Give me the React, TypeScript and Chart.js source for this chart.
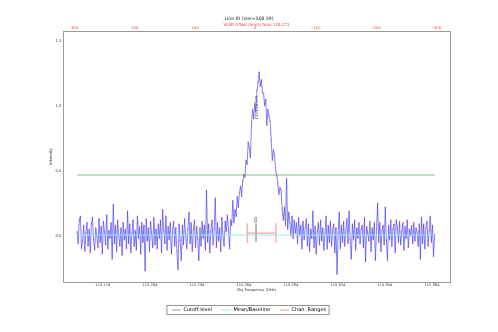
import { useEffect, useRef } from "react";
import { Chart, registerables } from "chart.js";

Chart.register(...registerables);

// ---- data ----
const REST_FREQ = 115.2712; // GHz
const C_KMS = 299792.458;
const FREQ_START = 115.1575;
const CHAN_WIDTH = 0.0007;
const X_MIN = 115.1485;
const X_MAX = 115.3955;
const Y_MIN = -0.356;
const Y_MAX = 1.575;

const intensity = [
  0.03, -0.06, 0.12, 0.15, -0.1, -0.04, 0.08, -0.12, 0.02, 0.1,
  -0.08, 0.05, -0.13, 0.09, 0.14, -0.03, -0.11, 0.06, 0.0, -0.09,
  0.13, -0.05, 0.07, -0.14, 0.11, 0.03, -0.07, 0.16, -0.1, 0.04,
  -0.02, 0.1, -0.18, 0.24, -0.06, 0.08, -0.12, 0.12, 0.0, -0.08,
  0.06, -0.15, 0.1, -0.03, 0.05, -0.1, 0.19, -0.06, 0.09, -0.13,
  0.02, 0.12, -0.08, 0.04, -0.11, 0.15, -0.02, 0.07, -0.14, 0.1,
  -0.05, 0.08, -0.27, 0.13, -0.04, 0.06, -0.12, 0.11, 0.01, -0.09,
  0.14, -0.07, 0.05, -0.1, 0.09, -0.02, 0.12, -0.13, 0.2, 0.04,
  -0.06, 0.15, -0.11, 0.07, -0.03, 0.1, -0.14, 0.03, 0.11, -0.08,
  0.06, -0.12, -0.26, 0.09, -0.04, -0.19, 0.08, -0.07, 0.13, 0.0,
  -0.1, 0.05, 0.18, -0.06, 0.1, -0.12, 0.04, 0.12, -0.09, 0.07,
  -0.03, -0.19, 0.06, -0.08, 0.11, -0.02, 0.08, -0.11, 0.35, -0.05,
  0.09, -0.13, 0.03, 0.12, -0.07, 0.05, 0.29, -0.09, 0.1, -0.04,
  0.06, -0.12, 0.14, 0.0, -0.08, 0.11, 0.03, 0.16, 0.05, -0.1,
  0.12, 0.08, 0.27, 0.1, 0.2, 0.15, 0.3, 0.22, 0.33, 0.38,
  0.3, 0.42, 0.47, 0.45, 0.58, 0.55, 0.72, 0.68, 0.6, 0.85,
  0.97, 0.9, 1.02, 0.95, 1.12, 1.18, 1.26, 1.15, 1.2, 1.1,
  1.095, 1.0, 1.05, 0.85, 0.97, 0.92, 0.88, 0.74, 0.58, 0.66,
  0.62, 0.5, 0.47, 0.4, 0.32, 0.37, 0.35, 0.2, 0.12, 0.22,
  0.08, 0.44, 0.05, 0.18, 0.1, 0.0, 0.15, -0.02, 0.12, 0.02,
  0.1, -0.06, 0.14, 0.0, 0.08, -0.1, 0.11, -0.03, 0.06, 0.13,
  -0.08, 0.09, -0.12, 0.05, -0.02, 0.19, -0.09, 0.07, -0.14, 0.03,
  0.1, -0.07, 0.12, -0.04, 0.06, -0.11, 0.02, 0.15, -0.1, 0.08,
  -0.05, 0.11, -0.08, 0.04, 0.09, -0.13, 0.06, -0.295, 0.02, 0.18,
  -0.1, 0.08, -0.05, 0.11, -0.08, 0.04, 0.13, -0.06, 0.19, -0.03,
  -0.18, 0.09, -0.03, 0.12, -0.11, 0.06, -0.02, 0.1, -0.06, 0.05,
  0.08, -0.09, 0.14, -0.2, 0.07, 0.02, -0.04, 0.11, -0.12, 0.06,
  -0.03, 0.1, -0.19, 0.05, 0.25, -0.05, 0.1, -0.12, 0.04, 0.08,
  -0.07, 0.22, -0.04, -0.19, 0.08, -0.03, 0.12, -0.08, 0.05, 0.09,
  -0.13, 0.12, 0.06, -0.05, 0.11, -0.07, 0.03, 0.1, -0.11, 0.07,
  -0.02, 0.12, -0.09, 0.05, 0.0, 0.08, -0.06, 0.1, -0.04, 0.06,
  0.03, -0.08, 0.09, -0.18, 0.14, -0.06, 0.09, -0.1, 0.06, 0.11,
  -0.08, 0.04, 0.15, -0.05, 0.08, -0.16, 0.01,
];

const xTickValues = [115.174, 115.204, 115.234, 115.264, 115.294, 115.324, 115.354, 115.384];
const yTickValues = [0, 0.5, 1.0, 1.5];
const cutoffLevel = 0.467;
const baselineLevel = 0.005;
const chanRangeFreqs = [115.2661, 115.2844];
const chanRangeY = [-0.056, 0.02, 0.097];
const markerFreq = 115.2717;
const markerY = [-0.045, 0.095];
const lineLabels = ["CO", "CO 115.271"];
const lineLabelFreqs = [115.2717, 115.2723];
const lineLabelY = [0.125, 0.99];
const legendLabels = ["Cutoff level", "Mean/Baseline", "Chan. Ranges"];
const legendColors = ["#7fc07f", "#9fe3ea", "#ff8c8c"];

const titleText = "Line ID (vlsr=500.59)";
const topAxisTitle = "VLSR Offset (km/s) from 115.271";
const xAxisTitle = "Sky Frequency (GHz)";
const yAxisTitle = "Intensity";

const FONT = "'DejaVu Sans', sans-serif";

export default function App() {
  const ref = useRef<HTMLCanvasElement | null>(null);

  useEffect(() => {
    document.body.style.margin = "0";
    const canvas = ref.current;
    if (!canvas) return;

    const freqs = intensity.map((_, i) => FREQ_START + i * CHAN_WIDTH);
    const spectrum = intensity.map((v, i) => ({ x: freqs[i], y: v }));
    const firstF = freqs[0];
    const lastF = freqs[freqs.length - 1];

    const chanData = [
      { x: chanRangeFreqs[0], y: chanRangeY[0] },
      { x: chanRangeFreqs[0], y: chanRangeY[2] },
      { x: chanRangeFreqs[0], y: null },
      { x: chanRangeFreqs[0], y: chanRangeY[1] },
      { x: chanRangeFreqs[1], y: chanRangeY[1] },
      { x: chanRangeFreqs[1], y: null },
      { x: chanRangeFreqs[1], y: chanRangeY[0] },
      { x: chanRangeFreqs[1], y: chanRangeY[2] },
    ];

    const labelPlugin = {
      id: "lineLabels",
      afterDatasetsDraw(chart: any) {
        const { ctx, scales } = chart;
        ctx.save();
        ctx.fillStyle = "#333";
        ctx.font = `4px ${FONT}`;
        ctx.textAlign = "center";
        ctx.textBaseline = "middle";
        lineLabels.forEach((t, i) => {
          const px = scales.x.getPixelForValue(lineLabelFreqs[i]);
          const py = scales.y.getPixelForValue(lineLabelY[i]);
          ctx.save();
          ctx.translate(px, py);
          ctx.rotate(-Math.PI / 2);
          ctx.fillText(t, 0, 0);
          ctx.restore();
        });
        ctx.restore();
      },
    };

    const legendBorder = {
      id: "legendBorder",
      afterDraw(chart: any) {
        const boxes = chart.legend?.legendHitBoxes;
        if (!boxes || !boxes.length) return;
        const { ctx } = chart;
        const l = Math.min(...boxes.map((b: any) => b.left)) - 5;
        const r = Math.max(...boxes.map((b: any) => b.left + b.width)) + 3;
        const t = Math.min(...boxes.map((b: any) => b.top)) - 2;
        const bt = Math.max(...boxes.map((b: any) => b.top + b.height)) + 2;
        ctx.save();
        ctx.strokeStyle = "#666";
        ctx.lineWidth = 0.7;
        ctx.strokeRect(l, t, r - l, bt - t);
        ctx.restore();
      },
    };

    const chart = new Chart(canvas, {
      type: "line",
      data: {
        datasets: [
          {
            label: "Mean/Baseline",
            data: [
              { x: firstF, y: baselineLevel },
              { x: lastF, y: baselineLevel },
            ],
            borderColor: legendColors[1],
            borderWidth: 1,
            pointRadius: 0,
          },
          {
            label: "spectrum",
            data: spectrum,
            borderColor: "rgba(50,50,255,0.62)",
            borderWidth: 1,
            pointRadius: 0.8,
            pointBorderWidth: 0,
            pointBackgroundColor: "rgba(255,80,80,0.7)",
            tension: 0,
          },
          {
            label: "Cutoff level",
            data: [
              { x: firstF, y: cutoffLevel },
              { x: lastF, y: cutoffLevel },
            ],
            borderColor: legendColors[0],
            borderWidth: 1,
            pointRadius: 0,
          },
          {
            label: "Chan. Ranges",
            data: chanData as any,
            borderColor: legendColors[2],
            borderWidth: 1,
            pointRadius: 0,
            spanGaps: false,
          },
          {
            label: "marker",
            data: [
              { x: markerFreq, y: markerY[0] },
              { x: markerFreq, y: markerY[1] },
            ],
            borderColor: "#444",
            borderWidth: 0.8,
            pointRadius: 0,
          },
        ],
      },
      options: {
        responsive: false,
        animation: false,
        devicePixelRatio: 1,
        layout: { padding: { left: 0, right: 0, top: 0, bottom: 9.5 }, autoPadding: false },
        plugins: {
          tooltip: { enabled: false },
          title: {
            display: true,
            text: titleText,
            color: "#222",
            font: { family: FONT, size: 4.6, weight: "normal" },
            padding: { top: 15.74, bottom: 0 },
          },
          legend: {
            display: true,
            position: "bottom",
            labels: {
              font: { family: FONT, size: 5 },
              color: "#333",
              usePointStyle: true,
              pointStyleWidth: 9,
              padding: 10,
              generateLabels: () =>
                legendLabels.map((t, i) => ({
                  text: t,
                  fillStyle: legendColors[i],
                  strokeStyle: legendColors[i],
                  lineWidth: 1,
                  pointStyle: "line",
                  hidden: false,
                  datasetIndex: i,
                })) as any,
            },
            onClick: () => {},
          },
        },
        scales: {
          x: {
            type: "linear",
            position: "bottom",
            min: X_MIN,
            max: X_MAX,
            afterBuildTicks: (s: any) => {
              s.ticks = xTickValues.map((v) => ({ value: v }));
            },
            afterFit: (s: any) => {
              s.height = 15.5;
            },
            ticks: {
              autoSkip: false,
              maxRotation: 0,
              padding: 1.3,
              color: "#333",
              font: { family: FONT, size: 3.6 },
              callback: (v: any) => Number(v).toFixed(3),
            },
            grid: { display: false, drawTicks: false },
            border: { display: true, color: "#999", width: 1 },
            title: {
              display: true,
              text: xAxisTitle,
              color: "#333",
              font: { family: FONT, size: 3.8 },
              padding: { top: 0, bottom: 5.7 },
            },
          },
          x2: {
            type: "linear",
            axis: "x",
            position: "top",
            reverse: true,
            min: (C_KMS * (REST_FREQ - X_MAX)) / REST_FREQ,
            max: (C_KMS * (REST_FREQ - X_MIN)) / REST_FREQ,
            afterFit: (s: any) => {
              s.height = 9.74;
            },
            ticks: {
              stepSize: 100,
              includeBounds: false,
              autoSkip: false,
              maxRotation: 0,
              padding: 0.8,
              color: "#ff3333",
              font: { family: FONT, size: 3.6 },
              callback: (v: any) => (v < 0 ? "\u2212" + Math.abs(v) : String(v)),
            },
            grid: { display: false, drawTicks: false },
            border: { display: true, color: "#999", width: 1 },
            title: {
              display: true,
              text: topAxisTitle,
              color: "#ff3333",
              font: { family: FONT, size: 4 },
              padding: { top: 0.84, bottom: 0 },
            },
          },
          y: {
            type: "linear",
            position: "left",
            min: Y_MIN,
            max: Y_MAX,
            afterBuildTicks: (s: any) => {
              s.ticks = yTickValues.map((v) => ({ value: v }));
            },
            afterFit: (s: any) => {
              s.width = 63;
            },
            ticks: {
              padding: 1.5,
              color: "#333",
              font: { family: FONT, size: 3.8 },
              callback: (v: any) => Number(v).toFixed(1),
            },
            grid: { display: false, drawTicks: false },
            border: { display: true, color: "#999", width: 1 },
            title: {
              display: true,
              text: yAxisTitle,
              color: "#333",
              font: { family: FONT, size: 3.8 },
              padding: { top: 48.4, bottom: 0 },
            },
          },
          y2: {
            type: "linear",
            axis: "y",
            position: "right",
            min: Y_MIN,
            max: Y_MAX,
            afterFit: (s: any) => {
              s.width = 48;
            },
            ticks: { display: false },
            grid: { display: false, drawTicks: false },
            border: { display: true, color: "#999", width: 1 },
          },
        },
      } as any,
      plugins: [labelPlugin, legendBorder],
    });

    return () => chart.destroy();
  }, []);

  return (
    <div style={{ position: "fixed", left: 0, top: 0, width: 498, height: 332, background: "#fff" }}>
      <canvas ref={ref} width={498} height={332} style={{ display: "block" }} />
    </div>
  );
}
